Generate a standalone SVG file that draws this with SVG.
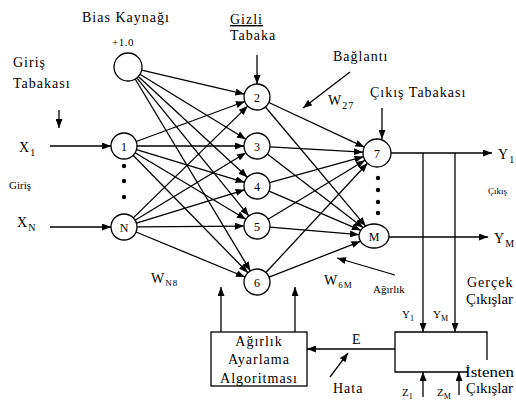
<svg xmlns="http://www.w3.org/2000/svg" width="516" height="412" viewBox="0 0 516 412" font-family="'Liberation Serif', 'DejaVu Serif', serif">
  <style>
    text { font-family: 'Liberation Serif', 'DejaVu Serif', serif; fill: #000; }
    .lbl { font-size: 14px; letter-spacing: 1px; }
    .fit { font-size: 14px; letter-spacing: 0; }
    .sm { font-size: 11px; }
    .xs { font-size: 9px; }
    .num { font-size: 12px; text-anchor: middle; }
    .node { fill: #fff; stroke: #000; stroke-width: 1.3; }
    .edge { stroke: #000; stroke-width: 1.3; fill: none; marker-end: url(#arrow); }
    .line { stroke: #000; stroke-width: 1.3; fill: none; }
    .box { fill: #fff; stroke: #000; stroke-width: 1.3; }
  </style>
  <defs>
    <marker id="arrow" markerUnits="userSpaceOnUse" markerWidth="9" markerHeight="7" refX="9" refY="3.5" orient="auto">
      <path d="M0,0 L9,3.5 L0,7 Z" fill="#000"/>
    </marker>
  </defs>
  <rect width="516" height="412" fill="#fff"/>

  <!-- connectors -->
  <g id="connectors">
    <!-- bias to hidden -->
    <line class="edge" x1="141.6" y1="70.2" x2="244.3" y2="94.1"/>
    <line class="edge" x1="139.9" y1="74.3" x2="245.9" y2="139.2"/>
    <line class="edge" x1="138.3" y1="76.5" x2="247.4" y2="177.2"/>
    <line class="edge" x1="136.8" y1="77.9" x2="248.8" y2="215.9"/>
    <line class="edge" x1="135.2" y1="79.0" x2="250.3" y2="270.8"/>
    <!-- input 1 to hidden -->
    <line class="edge" x1="136.2" y1="141.5" x2="244.8" y2="101.5"/>
    <line class="edge" x1="137" y1="146" x2="244" y2="146"/>
    <line class="edge" x1="136.5" y1="149.7" x2="244.5" y2="182.3"/>
    <line class="edge" x1="135.1" y1="152.7" x2="245.9" y2="219.3"/>
    <line class="edge" x1="133.1" y1="155.3" x2="247.9" y2="272.7"/>
    <!-- input N to hidden -->
    <line class="edge" x1="133.3" y1="217.9" x2="247.7" y2="106.1"/>
    <line class="edge" x1="135.1" y1="220.2" x2="245.9" y2="152.8"/>
    <line class="edge" x1="136.4" y1="223.2" x2="244.6" y2="189.8"/>
    <line class="edge" x1="137" y1="226.9" x2="244" y2="226.1"/>
    <line class="edge" x1="136.0" y1="232.0" x2="245.0" y2="277.0"/>
    <!-- hidden to output 7 -->
    <line class="edge" x1="268.8" y1="102.5" x2="364.3" y2="147.1"/>
    <line class="edge" x1="270" y1="146.8" x2="363.0" y2="152.2"/>
    <line class="edge" x1="269.5" y1="182.6" x2="363.5" y2="156.7"/>
    <line class="edge" x1="268.1" y1="219.2" x2="365.0" y2="160.3"/>
    <line class="edge" x1="265.9" y1="272.5" x2="367.5" y2="163.2"/>
    <!-- hidden to output M -->
    <line class="edge" x1="265.4" y1="107.0" x2="365.6" y2="226.1"/>
    <line class="edge" x1="267.3" y1="153.9" x2="363.2" y2="227.7"/>
    <line class="edge" x1="269.0" y1="191.1" x2="360.8" y2="230.3"/>
    <line class="edge" x1="270" y1="227.1" x2="359.0" y2="234.7"/>
    <line class="edge" x1="269.1" y1="277.2" x2="360.5" y2="241.3"/>

    <!-- inputs -->
    <line class="edge" x1="50" y1="146" x2="111" y2="146"/>
    <line class="edge" x1="50" y1="227" x2="111" y2="227"/>
    <!-- outputs -->
    <line class="edge" x1="391" y1="153" x2="492" y2="153"/>
    <line class="edge" x1="389" y1="237" x2="488" y2="237"/>
    <!-- actual outputs down to comparator -->
    <line class="edge" x1="423" y1="153" x2="423" y2="332"/>
    <line class="edge" x1="455" y1="153" x2="455" y2="332"/>
    <!-- desired outputs up to comparator -->
    <line class="edge" x1="423" y1="397" x2="423" y2="372"/>
    <line class="edge" x1="459" y1="395" x2="459" y2="372"/>
    <!-- error to algorithm -->
    <line class="edge" x1="395" y1="349" x2="307" y2="349"/>
    <!-- weight updates -->
    <line class="edge" x1="221" y1="332" x2="221" y2="287"/>
    <line class="edge" x1="295" y1="332" x2="295" y2="287"/>

    <!-- label pointers -->
    <line class="edge" x1="59" y1="110" x2="59" y2="128"/>
    <line class="edge" x1="257" y1="55" x2="257" y2="84"/>
    <line class="edge" x1="382" y1="108" x2="382" y2="139"/>
    <line class="edge" x1="350" y1="72" x2="303" y2="108"/>
    <line class="edge" x1="395" y1="275" x2="337" y2="258"/>
    <line class="edge" x1="330" y1="377" x2="348" y2="353"/>
  </g>

  <!-- bias source -->
  <g id="bias">
    <circle class="node" cx="128" cy="67" r="14"/>
  </g>

  <!-- input layer -->
  <g id="in1">
    <circle class="node" cx="124" cy="146" r="13"/>
    <text class="num" x="124" y="150.5">1</text>
  </g>
  <g id="inN">
    <circle class="node" cx="124" cy="227" r="13"/>
    <text class="num" x="124" y="231.5">N</text>
  </g>
  <g id="in-dots">
    <circle cx="124" cy="166" r="2.2"/>
    <circle cx="124" cy="181" r="2.2"/>
    <circle cx="124" cy="197" r="2.2"/>
  </g>

  <!-- hidden layer -->
  <g id="h2">
    <circle class="node" cx="257" cy="97" r="13"/>
    <text class="num" x="257" y="101.5">2</text>
  </g>
  <g id="h3">
    <circle class="node" cx="257" cy="146" r="13"/>
    <text class="num" x="257" y="150.5">3</text>
  </g>
  <g id="h4">
    <circle class="node" cx="257" cy="186" r="13"/>
    <text class="num" x="257" y="190.5">4</text>
  </g>
  <g id="h5">
    <circle class="node" cx="257" cy="226" r="13"/>
    <text class="num" x="257" y="230.5">5</text>
  </g>
  <g id="h6">
    <circle class="node" cx="257" cy="282" r="13"/>
    <text class="num" x="257" y="286.5">6</text>
  </g>

  <!-- output layer -->
  <g id="o7">
    <circle class="node" cx="377" cy="153" r="14"/>
    <text class="num" x="377" y="157.5">7</text>
  </g>
  <g id="oM">
    <ellipse class="node" cx="374" cy="236" rx="15" ry="12"/>
    <text class="num" x="374" y="240.5">M</text>
  </g>
  <g id="out-dots">
    <circle cx="378" cy="178" r="2.2"/>
    <circle cx="378" cy="190" r="2.2"/>
    <circle cx="378" cy="202" r="2.2"/>
    <circle cx="378" cy="213" r="2.2"/>
  </g>

  <!-- weight adjustment algorithm -->
  <g id="algorithm">
    <rect class="box" x="211" y="332" width="96" height="54"/>
    <text class="lbl" x="259" y="346" text-anchor="middle">Ağırlık</text>
    <text class="lbl" x="259" y="364" text-anchor="middle">Ayarlama</text>
    <text class="lbl" x="259" y="383" text-anchor="middle">Algoritması</text>
  </g>

  <!-- comparator -->
  <g id="comparator">
    <path class="line" d="M487,360 L487,332 L395,332 L395,372 L468,372"/>
  </g>

  <!-- labels -->
  <g id="labels">
    <text class="lbl" x="82" y="22">Bias Kaynağı</text>
    <text class="sm" x="112" y="46" letter-spacing="0.5">+1.0</text>
    <text class="lbl" x="230" y="24" text-decoration="underline">Gizli</text>
    <text class="lbl" x="230" y="40">Tabaka</text>
    <text class="lbl" x="13" y="67">Giriş</text>
    <text class="lbl" x="13" y="88">Tabakası</text>
    <text class="lbl" x="333" y="61">Bağlantı</text>
    <text class="lbl" x="328" y="105">W<tspan font-size="10" dy="4">27</tspan></text>
    <text class="lbl" x="370" y="97">Çıkış Tabakası</text>
    <text class="lbl" x="19" y="152">X<tspan font-size="10" dy="4">1</tspan></text>
    <text class="sm" x="9" y="189">Giriş</text>
    <text class="lbl" x="17" y="227">X<tspan font-size="10" dy="4">N</tspan></text>
    <text class="lbl" x="498" y="159">Y<tspan font-size="10" dy="4">1</tspan></text>
    <text class="xs" x="488" y="194">Çıkış</text>
    <text class="lbl" x="494" y="243">Y<tspan font-size="10" dy="4">M</tspan></text>
    <text class="lbl" x="151" y="283">W<tspan font-size="9" dy="3">N8</tspan></text>
    <text class="lbl" x="324" y="285">W<tspan font-size="9" dy="3">6M</tspan></text>
    <text class="sm" x="373" y="293">Ağırlık</text>
    <text class="lbl" x="467" y="287">Gerçek</text>
    <text class="fit" x="466" y="304" textLength="47" lengthAdjust="spacingAndGlyphs">Çıkışlar</text>
    <text class="sm" x="402" y="318">Y<tspan font-size="8" dy="3">1</tspan></text>
    <text class="sm" x="433" y="318">Y<tspan font-size="8" dy="3">M</tspan></text>
    <text class="lbl" x="352" y="344">E</text>
    <text class="lbl" x="333" y="393">Hata</text>
    <text class="sm" x="402" y="396">Z<tspan font-size="8" dy="3">1</tspan></text>
    <text class="sm" x="437" y="396">Z<tspan font-size="8" dy="3">M</tspan></text>
    <text class="fit" x="465" y="377" textLength="49" lengthAdjust="spacingAndGlyphs">İstenen</text>
    <text class="fit" x="466" y="393" textLength="47" lengthAdjust="spacingAndGlyphs">Çıkışlar</text>
  </g>
</svg>
